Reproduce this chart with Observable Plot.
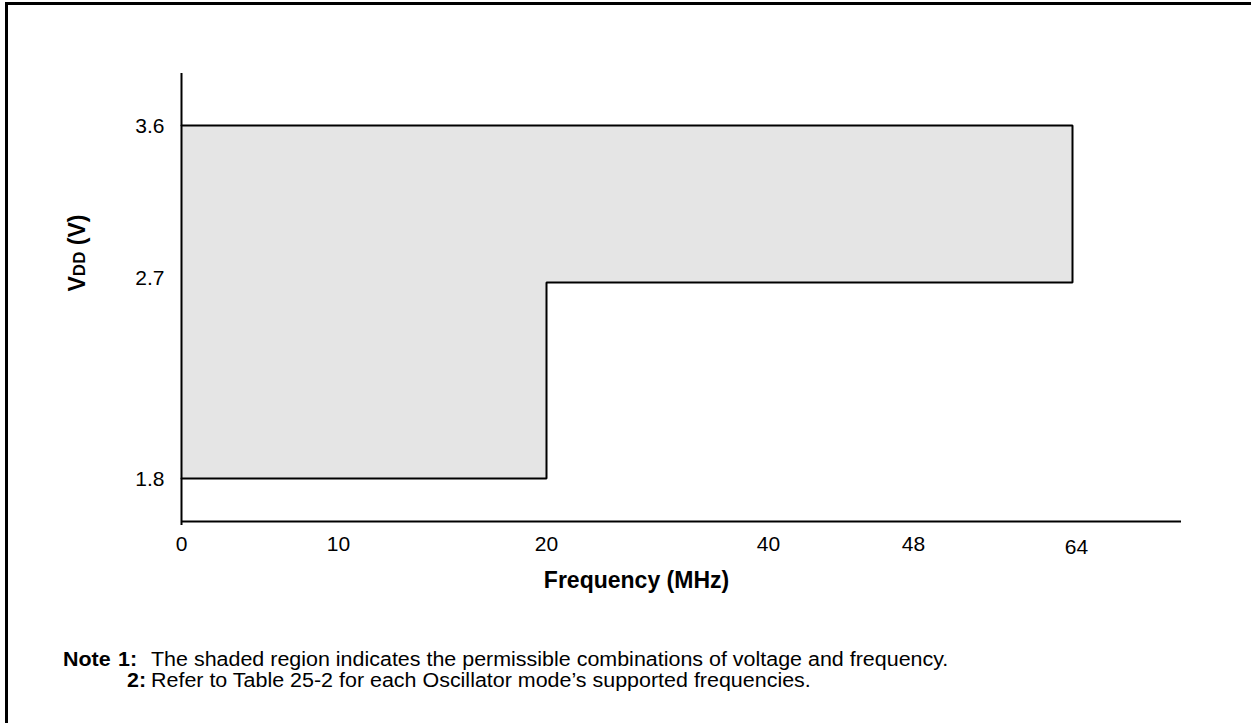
<!DOCTYPE html>
<html><head><meta charset="utf-8">
<script src="https://cdn.jsdelivr.net/npm/d3@7"></script>
<script src="https://cdn.jsdelivr.net/npm/@observablehq/plot@0.6"></script>
<style>
html,body{margin:0;padding:0;background:#fff;}
body{font-family:"Liberation Sans",Arial,sans-serif;width:1251px;height:723px;overflow:hidden;position:relative;}
#frame{position:absolute;left:5px;top:2px;width:1400px;height:900px;border:3px solid #000;box-sizing:border-box;}
#chart{position:absolute;left:0;top:0;}
.note{position:absolute;font-size:19.5px;line-height:20px;height:20px;color:#000;white-space:nowrap;transform-origin:0 50%;transform:scaleX(1.1);}
.b{font-weight:bold;}
</style></head><body>
<div id="frame"></div>
<div id="chart"></div>
<div class="note b" style="left:63px;top:649px;">Note</div>
<div class="note b" style="left:118px;top:649px;">1:</div>
<div class="note" style="left:151px;top:649px;">The shaded region indicates the permissible combinations of voltage and frequency.</div>
<div class="note b" style="left:127px;top:670px;">2:</div>
<div class="note" style="left:151px;top:670px;">Refer to Table 25-2 for each Oscillator mode’s supported frequencies.</div>
<script>
// Tick values
const freqTicks = [0, 10, 20, 40, 48, 64];
const vddTicks = [1.8, 2.7, 3.6];
// Shaded operating region (two rectangles)
const regionFreqStart = [0, 20];
const regionFreqEnd = [20, 64];
const regionVddLow = [1.8, 2.7];
const regionVddHigh = [3.6, 3.6];
// Outline of the region
const outlineFreq = [0, 64, 64, 20, 20, 0];
const outlineVdd = [3.6, 3.6, 2.7, 2.7, 1.8, 1.8];
// Axis extents
const freqMin = 0, freqMax = 72;
const vddMin = 1.6, vddMax = 3.9;
const xTitle = "Frequency (MHz)";

const rects = regionFreqStart.map((d, i) => ({x1: d, x2: regionFreqEnd[i], y1: regionVddLow[i], y2: regionVddHigh[i]}));
const outline = outlineFreq.map((d, i) => ({x: d, y: outlineVdd[i]}));

const chart = Plot.plot({
  width: 1251,
  height: 610,
  marginLeft: 181, marginRight: 70, marginTop: 73, marginBottom: 89,
  style: {fontFamily: "Liberation Sans, Arial, sans-serif", fontSize: "21px", color: "#000", background: "transparent", overflow: "visible"},
  x: {type: "linear", axis: null, domain: [freqMin, 10, 20, 40, 48, 64, freqMax], range: [181, 338, 546, 768, 913, 1072, 1181]},
  y: {type: "linear", axis: null, domain: [vddMin, 1.8, 2.7, 3.6, vddMax], range: [521, 478, 282, 125, 73]},
  marks: [
    Plot.rect(rects, {x1: "x1", x2: "x2", y1: "y1", y2: "y2", fill: "#e5e5e5"}),
    Plot.line(outline, {x: "x", y: "y", stroke: "#000", strokeWidth: 2, strokeLinejoin: "miter"}),
    Plot.ruleY([vddMin], {x1: freqMin, x2: freqMax, stroke: "#000", strokeWidth: 2}),
    Plot.ruleX([freqMin], {y1: vddMin, y2: vddMax, stroke: "#000", strokeWidth: 2}),
    Plot.axisX([freqMin], {anchor: "bottom", tickSize: 4, strokeWidth: 2, label: null, tickFormat: () => ""}),
    Plot.text(freqTicks.filter(d => d !== 64), {x: d => d, y: vddMin, dy: 23, fontSize: 21, text: d => String(d)}),
    Plot.text(freqTicks.filter(d => d === 64), {x: d => d, y: vddMin, dy: 26, dx: 4, fontSize: 21, text: d => String(d)}),
    Plot.text(vddTicks.filter(d => d !== 2.7), {x: freqMin, y: d => d, dx: -17, dy: 1, textAnchor: "end", fontSize: 21, text: d => d.toFixed(1)}),
    Plot.text(vddTicks.filter(d => d === 2.7), {x: freqMin, y: d => d, dx: -17, dy: -4, textAnchor: "end", fontSize: 21, text: d => d.toFixed(1)}),
    Plot.text([xTitle], {frameAnchor: "bottom", dx: -45, dy: 66, fontWeight: "bold", fontSize: 23})
  ]
});
document.getElementById("chart").appendChild(chart);

// Y axis title with smaller "DD"
const svg = d3.select(chart);
const t = svg.append("text")
  .attr("transform", "translate(85,253) rotate(-90)")
  .attr("text-anchor", "middle")
  .attr("font-weight", "bold")
  .attr("font-size", 23)
  .attr("fill", "#000");
t.append("tspan").text("V");
t.append("tspan").attr("font-size", 17).text("DD");
t.append("tspan").text(" (V)");
</script>
</body></html>
